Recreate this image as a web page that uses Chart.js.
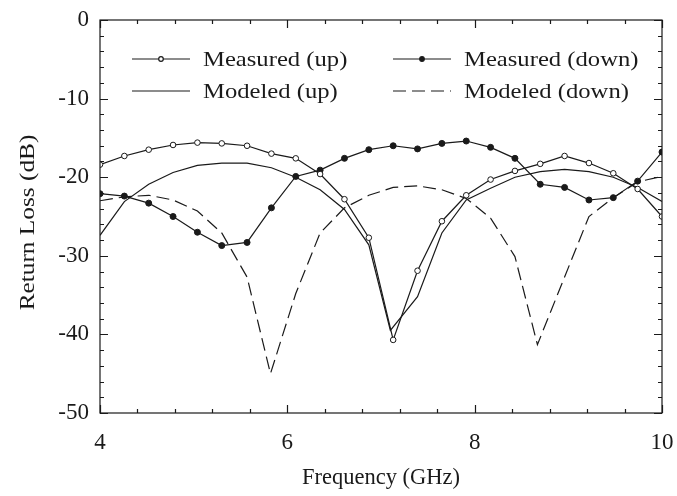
<!DOCTYPE html>
<html lang="en">
<head>
    <meta charset="UTF-8">
    <title>Return Loss</title>
    <script src="https://cdn.jsdelivr.net/npm/chart.js"></script>
    <style>
        body { margin: 0; background: #fff; }
        #wrap { width: 677px; height: 496px; position: relative; }
    </style>
</head>
<body>
    <div id="wrap"><canvas id="rlChart"></canvas></div>

    <script>
        // Measured points share one frequency grid (24 points, 4 to 10 GHz)
        const measFreq = [4.0, 4.26, 4.52, 4.78, 5.04, 5.30, 5.57, 5.83, 6.09, 6.35, 6.61, 6.87,
                          7.13, 7.39, 7.65, 7.91, 8.17, 8.43, 8.70, 8.96, 9.22, 9.48, 9.74, 10.0];
        const measuredUp = [-18.4, -17.3, -16.5, -15.9, -15.6, -15.7, -16.0, -17.0, -17.6, -19.6, -22.8, -27.7,
                            -40.7, -31.9, -25.6, -22.3, -20.3, -19.2, -18.3, -17.3, -18.2, -19.5, -21.5, -25.0];
        const measuredDown = [-22.1, -22.4, -23.3, -25.0, -27.0, -28.7, -28.3, -23.9, -19.9, -19.1, -17.6, -16.5,
                              -16.0, -16.4, -15.7, -15.4, -16.2, -17.6, -20.9, -21.3, -22.9, -22.6, -20.5, -16.8];

        const modUpFreq = [4.0, 4.26, 4.52, 4.78, 5.04, 5.30, 5.57, 5.83, 6.09, 6.35, 6.61, 6.87,
                           7.10, 7.39, 7.65, 7.91, 8.17, 8.43, 8.70, 8.96, 9.22, 9.48, 9.74, 10.0];
        const modeledUp = [-27.4, -23.1, -20.9, -19.4, -18.5, -18.2, -18.2, -18.8, -20.0, -21.6, -24.1, -28.6,
                           -39.5, -35.2, -27.1, -22.9, -21.4, -20.0, -19.3, -19.0, -19.3, -20.0, -21.3, -23.1];

        const modDownFreq = [4.0, 4.26, 4.52, 4.78, 5.04, 5.30, 5.57, 5.82, 6.09, 6.35, 6.61, 6.87,
                             7.13, 7.39, 7.65, 7.91, 8.17, 8.43, 8.67, 8.96, 9.22, 9.48, 9.74, 10.0];
        const modeledDown = [-23.0, -22.5, -22.3, -22.9, -24.3, -27.1, -32.7, -45.0, -34.8, -27.1, -23.9, -22.3,
                             -21.3, -21.1, -21.6, -22.7, -25.2, -30.1, -41.3, -32.7, -25.0, -22.6, -20.6, -19.9];

        const seriesLabels = ['Measured (up)', 'Measured (down)', 'Modeled (up)', 'Modeled (down)'];
        const yTitle = 'Return Loss (dB)';

        const ink = '#1a1a1a';
        const serif = '"Liberation Serif", "DejaVu Serif", serif';

        const toXY = (xs, ys) => xs.map((x, i) => ({ x: x, y: ys[i] }));

        // inward ticks on all four sides + frame
        const framePlugin = {
            id: 'frame',
            afterDraw(chart) {
                const { ctx, chartArea: a, scales } = chart;
                const xs = scales.x, ys = scales.y;
                ctx.save();
                ctx.strokeStyle = ink;
                ctx.lineWidth = 1.2;
                ctx.strokeRect(a.left, a.top, a.right - a.left, a.bottom - a.top);
                ctx.beginPath();
                for (let k = 0; k <= 15; k++) {
                    const v = 4 + k * 0.4;
                    const px = Math.round(xs.getPixelForValue(v)) + 0.5;
                    const len = (Math.abs(v - Math.round(v / 2) * 2) < 1e-6) ? 8 : 4;
                    ctx.moveTo(px, a.bottom); ctx.lineTo(px, a.bottom - len);
                    ctx.moveTo(px, a.top); ctx.lineTo(px, a.top + len);
                }
                for (let v = 0; v >= -50; v -= 2) {
                    const py = Math.round(ys.getPixelForValue(v)) + 0.5;
                    const len = (v % 10 === 0) ? 8 : 4;
                    ctx.moveTo(a.left, py); ctx.lineTo(a.left + len, py);
                    ctx.moveTo(a.right, py); ctx.lineTo(a.right - len, py);
                }
                ctx.stroke();

                // y title, a little wider set than plain Times
                ctx.translate(28, (a.top + a.bottom) / 2 + 6);
                ctx.rotate(-Math.PI / 2);
                ctx.scale(1.15, 1);
                ctx.font = '22px ' + serif;
                ctx.fillStyle = ink;
                ctx.textAlign = 'center';
                ctx.textBaseline = 'middle';
                ctx.fillText(yTitle, 0, 0);
                ctx.restore();
            }
        };

        // two-column legend inside the plot
        const legendPlugin = {
            id: 'innerLegend',
            afterDraw(chart) {
                const { ctx } = chart;
                const items = [
                    { i: 0, x: 132, y: 59 }, { i: 1, x: 393, y: 59 },
                    { i: 2, x: 132, y: 91 }, { i: 3, x: 393, y: 91 }
                ];
                ctx.save();
                ctx.textBaseline = 'middle';
                items.forEach(it => {
                    const ds = chart.data.datasets[it.i];
                    const w = 58;
                    ctx.strokeStyle = ink;
                    ctx.lineWidth = 1.2;
                    ctx.setLineDash(ds.borderDash || []);
                    ctx.beginPath();
                    ctx.moveTo(it.x, it.y); ctx.lineTo(it.x + w, it.y);
                    ctx.stroke();
                    ctx.setLineDash([]);
                    if (ds.pointRadius > 0) {
                        ctx.beginPath();
                        ctx.arc(it.x + w / 2, it.y, 2.3, 0, Math.PI * 2);
                        ctx.fillStyle = ds.pointBackgroundColor;
                        ctx.fill();
                        ctx.stroke();
                    }
                    ctx.save();
                    ctx.translate(it.x + w + 13, it.y + 1);
                    ctx.scale(1.12, 1);
                    ctx.font = '22px ' + serif;
                    ctx.fillStyle = ink;
                    ctx.fillText(ds.label, 0, 0);
                    ctx.restore();
                });
                ctx.restore();
            }
        };

        new Chart(document.getElementById('rlChart'), {
            type: 'line',
            data: {
                datasets: [
                    {
                        label: seriesLabels[0],
                        data: toXY(measFreq, measuredUp),
                        borderColor: ink, borderWidth: 1.2,
                        pointRadius: 2.8, pointBackgroundColor: '#fff', pointBorderColor: ink, pointBorderWidth: 1
                    },
                    {
                        label: seriesLabels[1],
                        data: toXY(measFreq, measuredDown),
                        borderColor: ink, borderWidth: 1.2,
                        pointRadius: 3, pointBackgroundColor: ink, pointBorderColor: ink, pointBorderWidth: 1
                    },
                    {
                        label: seriesLabels[2],
                        data: toXY(modUpFreq, modeledUp),
                        borderColor: ink, borderWidth: 1.2, pointRadius: 0
                    },
                    {
                        label: seriesLabels[3],
                        data: toXY(modDownFreq, modeledDown),
                        borderColor: ink, borderWidth: 1.2, pointRadius: 0,
                        borderDash: [13, 6]
                    }
                ]
            },
            options: {
                responsive: true,
                maintainAspectRatio: false,
                animation: false,
                layout: { padding: { top: 20, right: 15, left: 0, bottom: 0 } },
                plugins: { legend: { display: false }, tooltip: { enabled: false } },
                elements: { line: { tension: 0 } },
                scales: {
                    x: {
                        type: 'linear', min: 4, max: 10,
                        grid: { display: false, drawTicks: false },
                        border: { display: false },
                        ticks: { stepSize: 2, color: ink, padding: 16, font: { family: serif, size: 23 } },
                        title: { display: true, text: 'Frequency (GHz)', color: ink, padding: { top: 12 }, font: { family: serif, size: 22.5 } },
                        afterFit: s => { s.height = 83; s.paddingLeft = 0; s.paddingRight = 0; }
                    },
                    y: {
                        min: -50, max: 0,
                        grid: { display: false, drawTicks: false },
                        border: { display: false },
                        ticks: { stepSize: 10, color: ink, padding: 11, font: { family: serif, size: 23 } },
                        title: { display: false },
                        afterFit: s => { s.width = 100; s.paddingTop = 0; s.paddingBottom = 0; }
                    }
                }
            },
            plugins: [framePlugin, legendPlugin]
        });
    </script>
</body>
</html>
